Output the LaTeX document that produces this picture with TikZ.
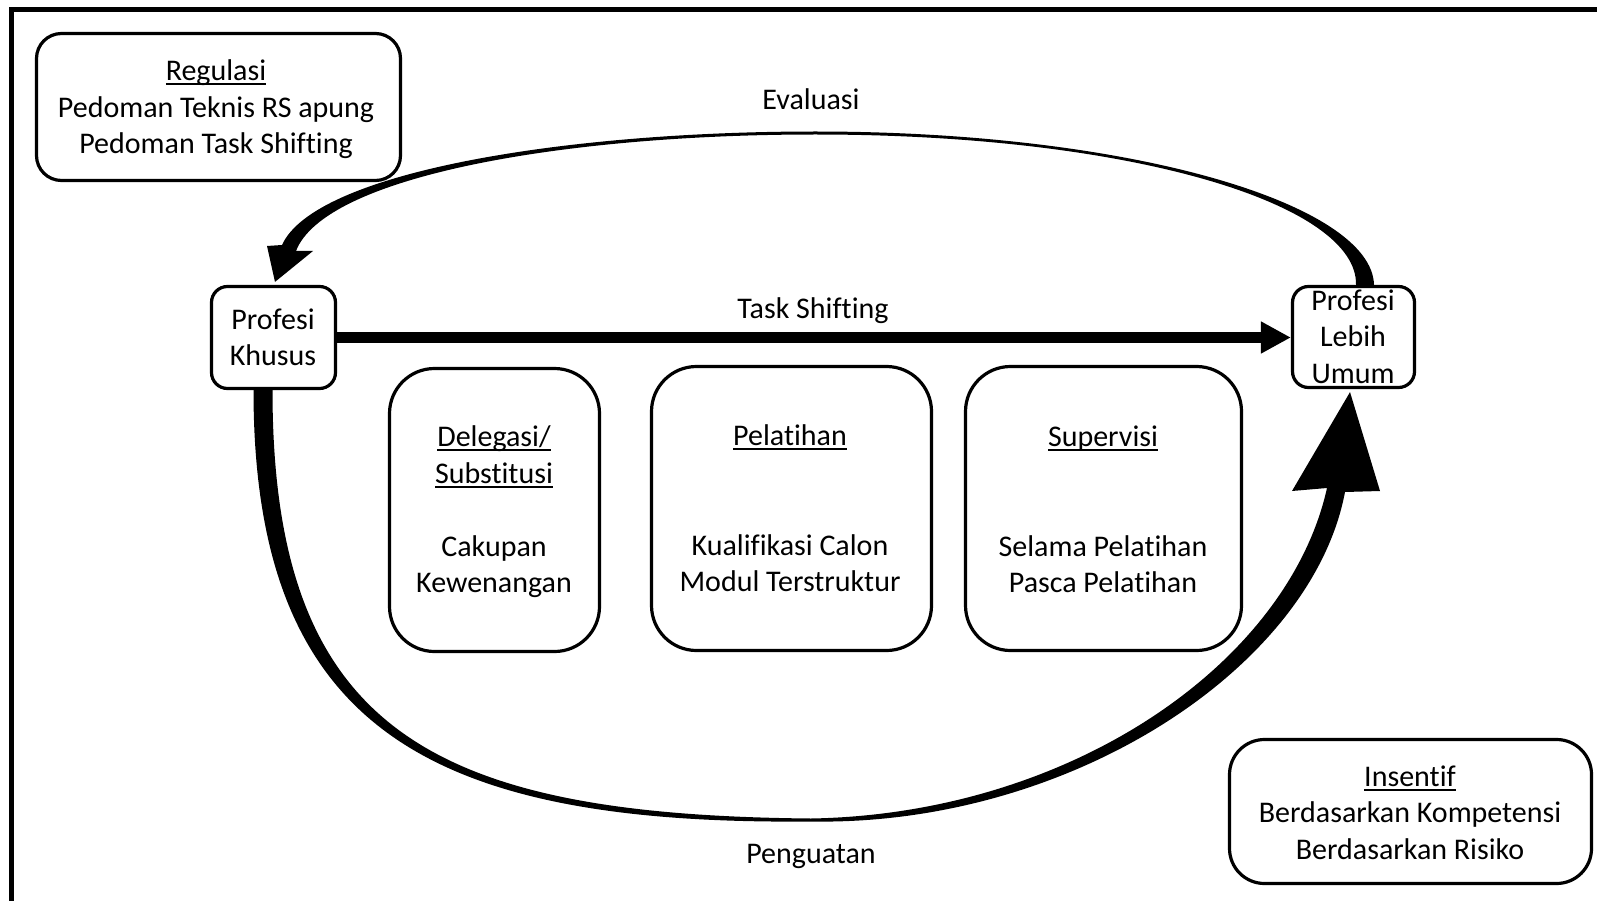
\documentclass[tikz,border=0pt]{standalone}
\usepackage{fontspec}
\setmainfont{Carlito}[Ligatures=NoCommon]
\usetikzlibrary{calc,arrows.meta}
% strut giving every text line the same height and depth
\newcommand\st{\rule[-7.2pt]{0pt}{33.7pt}}
% underline kept just below the baseline
\newcommand\undl[1]{\setbox0\hbox{#1}\rlap{\rule[-4.5pt]{\wd0}{2pt}}\box0}
\begin{document}
\begin{tikzpicture}[x=1pt,y=-1pt,
  txt/.style={font=\fontsize{30}{36.5}\selectfont, align=center, inner sep=0pt},
  panel/.style={draw, line width=3.2pt, fill=white, inner sep=0pt, rounded corners=#1},
  flow/.style={fill=black}]
\fill[white] (0,0) rectangle (1597,901);
\useasboundingbox (0,0) rectangle (1597,901);

% frame along the top and left
\draw[line width=5pt, line join=miter] (11.5,901) -- (11.5,9.5) -- (1597,9.5);

% boxes
\node[panel=25pt, minimum width=364pt, minimum height=147pt] (reg) at (218.5,107) {};
\node[panel=16pt, minimum width=124pt, minimum height=102pt] (pk) at (273.5,337.5) {};
\node[panel=16pt, minimum width=122pt, minimum height=101pt] (plu) at (1353.5,337) {};
\node[panel=45pt, minimum width=210pt, minimum height=283pt] (del) at (494.5,510) {};
\node[panel=45pt, minimum width=280pt, minimum height=284pt] (pel) at (791.5,508.5) {};
\node[panel=45pt, minimum width=276pt, minimum height=284pt] (sup) at (1103.5,508.5) {};
\node[panel=35pt, minimum width=362pt, minimum height=144pt] (ins) at (1410.5,811.5) {};

% texts
\node[txt] (reg-t) at (216,107.5) {\st\undl{Regulasi}\\\st Pedoman Teknis RS apung\\\st Pedoman Task Shifting};
\node[txt] (pk-t) at (273,338) {\st Profesi\\\st Khusus};
\node[txt] (plu-t) at (1353,337) {\st Profesi\\\st Lebih\\\st Umum};
\node[txt] (del-t) at (494,510) {\st\undl{Delegasi/}\\\st\undl{Substitusi}\\\st\\\st Cakupan\\\st Kewenangan};
\node[txt] (pel-t) at (790,509) {\st\undl{Pelatihan}\\\st\\\st\\\st Kualifikasi Calon\\\st Modul Terstruktur};
\node[txt] (sup-t) at (1103,510) {\st\undl{Supervisi}\\\st\\\st\\\st Selama Pelatihan\\\st Pasca Pelatihan};
\node[txt] (ins-t) at (1410,813) {\st\undl{Insentif}\\\st Berdasarkan Kompetensi\\\st Berdasarkan Risiko};
\node[txt] (eva) at (811,100) {\st Evaluasi};
\node[txt] (ts) at (813,308.5) {\st Task Shifting};
\node[txt] (pen) at (811,854) {\st Penguatan};

% task shifting arrow
\draw[line width=10.5pt, -{Triangle[length=30pt,width=30pt]}] (pk.east) -- (pk.east -| plu.west);

% evaluation loop: from Profesi Lebih Umum back over the top to Profesi Khusus
\coordinate (ts0) at ($(plu.north)+(11.5,0)$);
\coordinate (tt) at ($(pk.north)+(1.5,-3)$);
\fill[flow] ($(ts0)+(9,0)$) .. controls (1372,205) and (1135,131.5) .. (815,131.5)
  .. controls (565,131.5) and (315,172) .. (282,245)
  -- (267,246) -- (tt) -- (313,251) -- (296,251)
  .. controls (325,176) and (565,134.5) .. (815,134.5)
  .. controls (1135,134.5) and (1358,205) .. ($(ts0)+(-9,0)$) -- cycle;

% strengthening loop: from Profesi Khusus under the panels to Profesi Lebih Umum
\coordinate (bs) at ($(pk.south)+(-10.5,0)$);
\coordinate (bt) at ($(plu.south)+(-3.5,3)$);
\fill[flow] ($(bs)+(-9.5,0)$) .. controls (253.5,730) and (431,825) .. (811,821.5)
  .. controls (1071,826) and (1312,667) .. (1345,492)
  -- (1380,491) -- (bt) -- (1292,491) -- (1327,488)
  .. controls (1288,663) and (1071,814) .. (811,818.5)
  .. controls (431,815) and (272.5,730) .. ($(bs)+(9.5,0)$) -- cycle;
\end{tikzpicture}
\end{document}
